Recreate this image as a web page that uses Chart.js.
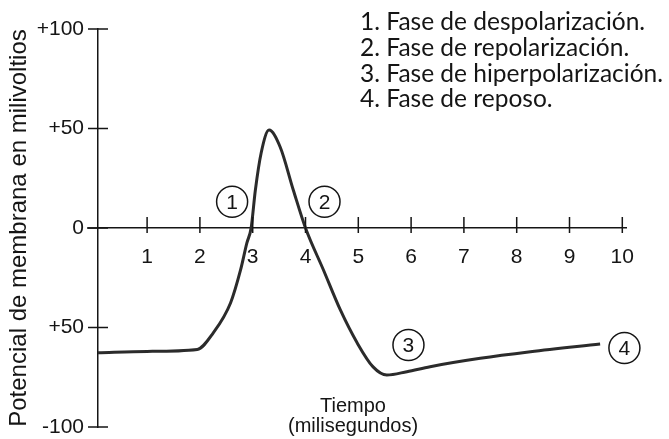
<!DOCTYPE html>
<html>
<head>
<meta charset="utf-8">
<script src="https://cdn.jsdelivr.net/npm/chart.js@4"></script>
<style>
  html, body { margin: 0; padding: 0; background: #ffffff; }
  #wrap { width: 669px; height: 439px; position: relative; }
</style>
</head>
<body>
<div id="wrap"><canvas id="chart" width="669" height="439"></canvas></div>
<script>
// Action potential: membrane potential (mV) over time (ms)
const timeMs = [0.06, 1.0, 1.95, 2.25, 2.58, 2.77, 2.89, 2.97, 3.05, 3.16, 3.31, 3.52, 3.77, 4.0, 4.34, 4.66, 4.98, 5.28, 5.54, 5.92, 6.36, 7.31, 8.26, 9.58];
const potentialMv = [-62.7, -62, -61, -52.8, -37.7, -21.1, -7.5, 0, 19, 37.7, 49.2, 40.7, 19, 0, -21.1, -41.2, -57.8, -69.8, -73.9, -72.2, -69.7, -65.5, -62.2, -58.3];

// Axis ticks
const xTickValues = [1, 2, 3, 4, 5, 6, 7, 8, 9, 10];
const xTickLabels = ['1', '2', '3', '4', '5', '6', '7', '8', '9', '10'];
const yTickValues = [100, 50, 0, -50, -100];
const yTickLabels = ['+100', '+50', '0', '+50', '-100'];

// Circled phase markers
const phaseNumbers = ['1', '2', '3', '4'];
const phaseX = [2.61, 4.36, 5.95, 10.04];
const phaseY = [13.2, 13.2, -58.8, -60.3];
const phaseNames = [
  '1. Fase de despolarización.',
  '2. Fase de repolarización.',
  '3. Fase de hiperpolarización.',
  '4. Fase de reposo.'
];

const yTitle = 'Potencial de membrana en milivoltios';
const xTitleLines = ['Tiempo', '(milisegundos)'];

const AX_FONT = "'Liberation Sans', Arial, sans-serif";
const LIST_FONT = "Lato, 'Open Sans', sans-serif";
const INK = '#151515';

const decorations = {
  id: 'decorations',
  afterDraw(chart) {
    const ctx = chart.ctx;
    const xs = chart.scales.x, ys = chart.scales.y;
    const x0 = xs.getPixelForValue(xs.min);
    const y0 = ys.getPixelForValue(0);
    ctx.save();
    ctx.strokeStyle = INK;
    ctx.lineWidth = 1.5;
    // short stub of the time axis left of the potential axis
    ctx.beginPath();
    ctx.moveTo(x0 - 11, y0);
    ctx.lineTo(x0, y0);
    ctx.stroke();
    // crossing tick marks
    ctx.beginPath();
    xs.ticks.forEach(t => {
      const px = xs.getPixelForValue(t.value);
      ctx.moveTo(px, y0 - 11);
      ctx.lineTo(px, y0 + 5);
    });
    ys.ticks.forEach(t => {
      const py = ys.getPixelForValue(t.value);
      ctx.moveTo(x0 - 10, py);
      ctx.lineTo(x0 + 10, py);
    });
    ctx.stroke();

    // numbers inside the phase circles
    const meta = chart.getDatasetMeta(1);
    ctx.fillStyle = INK;
    ctx.font = '21px ' + AX_FONT;
    ctx.textAlign = 'center';
    ctx.textBaseline = 'middle';
    meta.data.forEach((pt, i) => {
      ctx.fillText(phaseNumbers[i], pt.x, pt.y + 1);
    });

    // time axis caption
    const cx = xs.getPixelForValue(4.9);
    ctx.font = '20px ' + AX_FONT;
    ctx.fillText(xTitleLines[0], cx, 406);
    ctx.fillText(xTitleLines[1], cx, 426);

    // phase list
    ctx.textAlign = 'left';
    ctx.font = '24.5px ' + LIST_FONT;
    phaseNames.forEach((s, i) => {
      ctx.fillText(s, 360, 22.5 + i * 25.6);
    });
    ctx.restore();
  }
};

new Chart(document.getElementById('chart'), {
  type: 'scatter',
  data: {
    datasets: [
      {
        type: 'line',
        data: timeMs.map((t, i) => ({ x: t, y: potentialMv[i] })),
        borderColor: '#2b2b2b',
        borderWidth: 3,
        pointRadius: 0,
        cubicInterpolationMode: 'monotone',
        fill: false
      },
      {
        type: 'scatter',
        data: phaseX.map((t, i) => ({ x: t, y: phaseY[i] })),
        pointRadius: 15.5,
        pointHoverRadius: 15.5,
        pointBackgroundColor: '#ffffff',
        pointBorderColor: INK,
        pointBorderWidth: 1.5,
        clip: false
      }
    ]
  },
  options: {
    responsive: false,
    devicePixelRatio: 1,
    animation: false,
    events: [],
    layout: { autoPadding: false, padding: { top: 29, right: 43, bottom: 12, left: 0 } },
    plugins: { legend: { display: false }, tooltip: { enabled: false } },
    scales: {
      x: {
        type: 'linear',
        position: { y: 0 },
        min: 0.07,
        max: 10.07,
        afterBuildTicks: s => { s.ticks = xTickValues.map(v => ({ value: v })); },
        afterFit: s => { s.height = 0; s.paddingTop = 0; s.paddingBottom = 0; },
        grid: { display: false, drawTicks: false, tickLength: 0 },
        border: { display: true, color: INK, width: 1.5 },
        ticks: {
          padding: 17,
          color: INK,
          font: { size: 21, family: AX_FONT },
          maxRotation: 0,
          autoSkip: false,
          callback: v => xTickLabels[xTickValues.indexOf(v)]
        }
      },
      y: {
        type: 'linear',
        position: 'left',
        min: -100,
        max: 100,
        afterBuildTicks: s => { s.ticks = yTickValues.map(v => ({ value: v })); },
        afterFit: s => { s.width = 98; s.paddingTop = 0; s.paddingBottom = 0; },
        grid: { display: false, drawTicks: true, tickLength: 14 },
        border: { display: true, color: INK, width: 1.5 },
        ticks: {
          padding: 0,
          color: INK,
          font: { size: 21, family: AX_FONT },
          callback: v => yTickLabels[yTickValues.indexOf(v)]
        },
        title: {
          display: true,
          text: yTitle,
          color: INK,
          font: { size: 24, family: AX_FONT },
          padding: { top: 5, bottom: 0 }
        }
      }
    }
  },
  plugins: [decorations]
});
</script>
</body>
</html>
